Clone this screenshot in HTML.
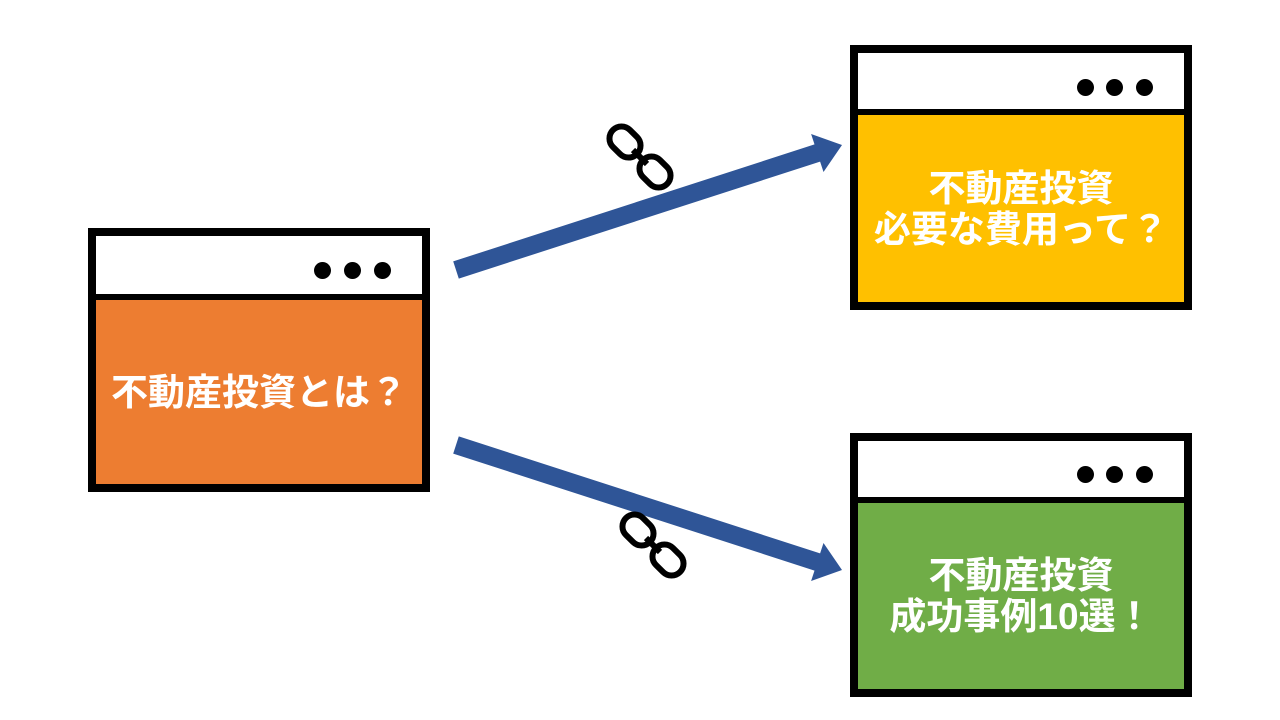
<!DOCTYPE html>
<html><head><meta charset="utf-8"><style>
body{margin:0;width:1280px;height:720px;background:#fff;overflow:hidden;position:relative;font-family:"Liberation Sans","Noto Sans CJK JP",sans-serif}
.win{position:absolute;box-sizing:border-box;border:8px solid #000;background:#fff}
.hdr{position:absolute;left:0;right:0;top:0;border-bottom:6px solid #000;background:#fff}
.dot{position:absolute;width:17px;height:17px;border-radius:50%;background:#000}
.body{position:absolute;left:0;right:0;bottom:0;display:flex;align-items:center;justify-content:center;text-align:center;color:#fff;font-weight:bold;font-size:37px;line-height:41px}
</style></head><body>
<svg width="1280" height="720" style="position:absolute;left:0;top:0">
<polygon points="453.2,261.4 814.5,144.4 811.1,134 842,145 823.5,172 820.1,161.6 458.8,278.6" fill="#2F5597"/>
<polygon points="458.8,436.4 820.1,553.4 823.5,543 842,570 811.1,581 814.5,570.6 453.2,453.6" fill="#2F5597"/>
<g fill="none" stroke="#000" stroke-width="6">
<g transform="translate(625,142) rotate(45)"><rect x="-17" y="-12" width="34" height="24" rx="12"/></g>
<g transform="translate(655,172) rotate(45)"><rect x="-17" y="-12" width="34" height="24" rx="12"/></g>
<line x1="633" y1="150" x2="647" y2="164"/>
<g transform="translate(638,530) rotate(45)"><rect x="-17" y="-12" width="34" height="24" rx="12"/></g>
<g transform="translate(668,560) rotate(45)"><rect x="-17" y="-12" width="34" height="24" rx="12"/></g>
<line x1="646" y1="538" x2="660" y2="552"/>
</g>
</svg>
<div class="win" style="left:88px;top:228px;width:342px;height:264px">
<div class="hdr" style="height:58px"></div>
<div class="dot" style="left:218px;top:26px"></div><div class="dot" style="left:248px;top:26px"></div><div class="dot" style="left:278px;top:26px"></div>
<div class="body" style="top:64px;background:#ED7D31">不動産投資とは？</div>
</div>
<div class="win" style="left:850px;top:45px;width:342px;height:265px">
<div class="hdr" style="height:56px"></div>
<div class="dot" style="left:219px;top:26px"></div><div class="dot" style="left:248px;top:26px"></div><div class="dot" style="left:278px;top:26px"></div>
<div class="body" style="top:62px;background:#FFC000">不動産投資<br>必要な費用って？</div>
</div>
<div class="win" style="left:850px;top:433px;width:342px;height:264px">
<div class="hdr" style="height:56px"></div>
<div class="dot" style="left:219px;top:25px"></div><div class="dot" style="left:248px;top:25px"></div><div class="dot" style="left:278px;top:25px"></div>
<div class="body" style="top:62px;background:#70AD47">不動産投資<br>成功事例10選！</div>
</div>
</body></html>
